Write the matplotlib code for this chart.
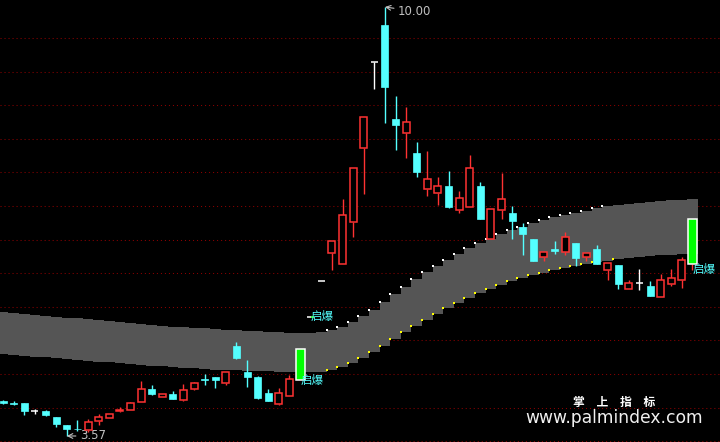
import numpy as np
import matplotlib
matplotlib.use("Agg")
import matplotlib.pyplot as plt

# daily OHLC (66 sessions)
opens = [4.09, 4.07, 4.06, 3.94, 3.94, 3.85, 3.73, 3.68, 3.66, 3.79,
         3.84, 3.95, 3.96, 4.08, 4.27, 4.15, 4.20, 4.11, 4.27, 4.43,
         4.45, 4.37, 4.92, 4.53, 4.45, 4.21, 4.05, 4.17, 4.41, 5.36,
         5.90, 6.31, 6.15, 6.78, 7.89, 9.18, 9.73, 8.32, 8.11, 7.81,
         7.27, 7.21, 7.32, 6.96, 7.00, 7.32, 6.52, 6.96, 6.91, 6.70,
         6.52, 6.25, 6.37, 6.33, 6.46, 6.25, 6.37, 6.06, 6.13, 5.77,
         5.86, 5.82, 5.65, 5.85, 5.91, 6.15]
highs = [4.11, 4.09, 4.06, 3.97, 3.96, 3.85, 3.73, 3.81, 3.82, 3.90,
         3.90, 4.00, 4.08, 4.39, 4.34, 4.20, 4.24, 4.35, 4.38, 4.50,
         4.45, 4.53, 4.98, 4.71, 4.47, 4.27, 4.29, 4.48, 4.87, 5.36,
         5.90, 6.49, 7.12, 7.59, 8.35, 9.18, 10.00, 8.67, 8.50, 7.98,
         7.84, 7.45, 7.54, 7.24, 7.78, 7.38, 6.97, 7.51, 7.02, 6.76,
         6.52, 6.33, 6.49, 6.63, 6.46, 6.31, 6.43, 6.16, 6.13, 5.91,
         6.07, 5.89, 6.00, 6.07, 6.25, 6.82]
lows = [4.05, 4.03, 3.88, 3.90, 3.87, 3.70, 3.57, 3.64, 3.63, 3.73,
        3.84, 3.93, 3.96, 4.08, 4.18, 4.15, 4.12, 4.09, 4.26, 4.34,
        4.29, 4.34, 4.72, 4.31, 4.12, 4.09, 4.03, 4.17, 4.41, 5.36,
        5.90, 6.06, 6.15, 6.55, 7.20, 8.77, 8.26, 7.86, 7.74, 7.45,
        7.17, 7.03, 6.99, 6.91, 7.00, 6.82, 6.52, 6.82, 6.52, 6.28,
        6.19, 6.19, 6.30, 6.28, 6.12, 6.19, 6.15, 5.91, 5.77, 5.77,
        5.76, 5.67, 5.65, 5.82, 5.79, 6.06]
closes = [4.06, 4.05, 3.94, 3.94, 3.88, 3.75, 3.67, 3.67, 3.78, 3.85,
          3.90, 3.96, 4.06, 4.27, 4.20, 4.20, 4.12, 4.26, 4.37, 4.41,
          4.41, 4.53, 4.74, 4.45, 4.14, 4.09, 4.21, 4.42, 4.87, 5.36,
          5.90, 6.49, 6.88, 7.59, 8.35, 9.18, 8.80, 8.23, 8.28, 7.53,
          7.42, 7.32, 7.00, 7.14, 7.59, 6.82, 6.97, 7.12, 6.79, 6.60,
          6.19, 6.33, 6.35, 6.55, 6.24, 6.31, 6.15, 6.16, 5.85, 5.86,
          5.86, 5.67, 5.91, 5.94, 6.21, 6.82]

# "启爆" signal sessions
signal_days = [28, 29, 65]
signal_text = "启爆"

# grey channel, upper / lower edge per session
band_upper = [5.43, 5.41, 5.40, 5.38, 5.37, 5.35, 5.34, 5.34, 5.32, 5.31,
              5.29, 5.28, 5.26, 5.25, 5.23, 5.22, 5.20, 5.20, 5.19, 5.19,
              5.17, 5.16, 5.16, 5.14, 5.14, 5.13, 5.13, 5.11, 5.11, 5.11,
              5.13, 5.16, 5.20, 5.28, 5.37, 5.46, 5.58, 5.70, 5.80, 5.92,
              6.03, 6.12, 6.21, 6.30, 6.39, 6.46, 6.52, 6.60, 6.66, 6.70,
              6.76, 6.81, 6.85, 6.88, 6.91, 6.94, 6.99, 7.02, 7.03, 7.05,
              7.06, 7.08, 7.09, 7.11, 7.11, 7.12]
band_lower = [4.80, 4.78, 4.77, 4.75, 4.75, 4.74, 4.72, 4.71, 4.69, 4.68,
              4.68, 4.66, 4.65, 4.63, 4.62, 4.62, 4.60, 4.59, 4.59, 4.57,
              4.56, 4.56, 4.56, 4.54, 4.54, 4.54, 4.53, 4.53, 4.53, 4.53,
              4.53, 4.56, 4.60, 4.66, 4.74, 4.83, 4.92, 5.02, 5.13, 5.22,
              5.31, 5.40, 5.49, 5.56, 5.64, 5.71, 5.77, 5.83, 5.89, 5.94,
              5.98, 6.01, 6.06, 6.09, 6.12, 6.15, 6.18, 6.19, 6.22, 6.24,
              6.25, 6.27, 6.28, 6.28, 6.30, 6.30]

RED = "#ff3232"
CYAN = "#54ffff"
GREEN = "#00ff00"
GREY_TXT = "#c0c0c0"
YTOP, YBOT = 10.105, 3.48

fig = plt.figure(figsize=(7.2, 4.42), dpi=100, facecolor="black")
ax = fig.add_axes([0, 0, 1, 1])
ax.set_facecolor("black")
ax.set_xlim(-0.3, 67.6)
ax.set_ylim(YBOT, YTOP)
ax.axis("off")

# dotted horizontal grid
for k in range(13):
    lvl = YTOP - (38 + 33.6 * k) / 442 * (YTOP - YBOT)
    ax.axhline(lvl, color="#8b0000", lw=0.75, ls=(0, (1, 2.85)), zorder=0)

# channel as steps
n = len(opens)
idx = np.arange(n)
xs = np.column_stack([idx - 0.5, idx + 0.5]).ravel()
up = np.repeat(band_upper, 2)
lo = np.repeat(band_lower, 2)
ax.fill_between(xs, lo, up, color="#555555", lw=0, zorder=1)
bu, bl = np.array(band_upper), np.array(band_lower)
rise_u = np.where(np.diff(bu) > 0.025)[0] + 1
rise_l = np.where(np.diff(bl) > 0.025)[0] + 1
ax.plot(rise_u - 0.5, bu[rise_u], ls="none", marker="s", ms=1.6, color="white", mew=0, zorder=2)
ax.plot(rise_l - 0.5, bl[rise_l], ls="none", marker="s", ms=1.6, color="#ffff00", mew=0, zorder=2)

W = 0.66
for j, (o, h, l, c) in enumerate(zip(opens, highs, lows, closes)):
    if j in signal_days:
        if c > o:
            ax.bar(j, c - o, 0.85, bottom=o, facecolor=GREEN, edgecolor="white", lw=1.1, zorder=4)
            if l < o:
                ax.vlines(j, l, o, color=RED, lw=1, zorder=3)
        else:
            ax.hlines(o, j - W / 2, j + W / 2, color="white", lw=1.1, zorder=4)
            ax.hlines(o, j, j + W / 2, color=GREEN, lw=1.1, zorder=4)
    elif c > o:
        ax.vlines(j, c, h, color=RED, lw=1, zorder=3)
        ax.vlines(j, l, o, color=RED, lw=1, zorder=3)
        ax.bar(j, c - o, W, bottom=o, facecolor="black", edgecolor=RED, lw=1.1, zorder=4)
    elif c < o:
        ax.vlines(j, l, h, color=CYAN, lw=1, zorder=3)
        ax.bar(j, o - c, W, bottom=c, facecolor=CYAN, edgecolor=CYAN, lw=0.5, zorder=4)
    else:
        ax.vlines(j, l, h, color="white", lw=1, zorder=3)
        ax.hlines(o, j - W / 2, j + W / 2, color="white", lw=1.1, zorder=4)

cjk = ["Noto Sans CJK SC", "DejaVu Sans"]
for j in signal_days:
    ax.text(j, lows[j], signal_text, color=CYAN, fontsize=8.3, family=cjk,
            ha="left", va="center", zorder=6)

# high / low markers
hi = int(np.argmax(highs))
lw_i = int(np.argmin(lows))
ax.annotate(f"{highs[hi]:.2f}", xy=(hi, highs[hi]), xytext=(9.5, -3), textcoords="offset points",
            color=GREY_TXT, fontsize=8.5, ha="left", va="center",
            arrowprops=dict(arrowstyle="->", color=GREY_TXT, lw=0.8, shrinkA=1, shrinkB=0))
ax.annotate(f"{lows[lw_i]:.2f}", xy=(lw_i, lows[lw_i]), xytext=(9.5, 0), textcoords="offset points",
            color=GREY_TXT, fontsize=8.5, ha="left", va="center",
            arrowprops=dict(arrowstyle="->", color=GREY_TXT, lw=0.8, shrinkA=1, shrinkB=0))

# watermark
fig.text(614 / 720, 1 - 402 / 442, "掌\u3000上\u3000指\u3000标", color="white", fontsize=8.5,
         family=cjk, fontweight="bold", ha="center", va="center", zorder=7)
fig.text(614.5 / 720, 1 - 418 / 442, "www.palmindex.com", color="#f0f0f0", fontsize=12.3,
         ha="center", va="center", zorder=7)

fig.savefig("out.png", dpi=100, facecolor="black")
